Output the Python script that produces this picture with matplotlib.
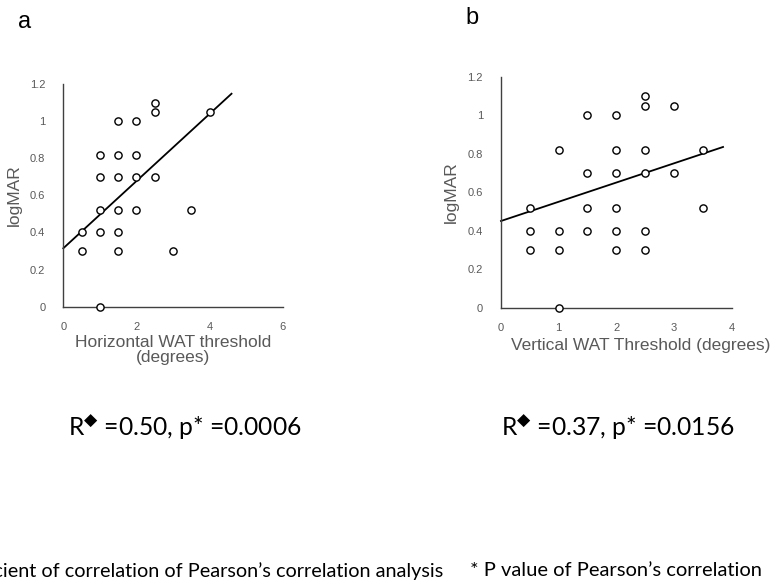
import numpy as np
import matplotlib
matplotlib.use("Agg")
from matplotlib import pyplot as plt

# panel a: horizontal WAT threshold vs logMAR
horiz_x = [0.5, 0.5, 1, 1, 1, 1, 1, 1.5, 1.5, 1.5, 1.5, 1.5, 1.5,
           2, 2, 2, 2, 2.5, 2.5, 2.5, 3, 3.5, 4]
horiz_y = [0.4, 0.3, 0.82, 0.7, 0.52, 0.4, 0.0, 1.0, 0.82, 0.7, 0.52, 0.4, 0.3,
           1.0, 0.82, 0.7, 0.52, 1.1, 1.05, 0.7, 0.3, 0.52, 1.05]
# trend line: intercept, slope, end x
horiz_fit = (0.315, 0.181, 4.6)

# panel b: vertical WAT threshold vs logMAR
vert_x = [0.5, 0.5, 0.5, 1, 1, 1, 1, 1.5, 1.5, 1.5, 1.5,
          2, 2, 2, 2, 2, 2, 2.5, 2.5, 2.5, 2.5, 2.5, 2.5, 3, 3, 3.5, 3.5]
vert_y = [0.52, 0.4, 0.3, 0.82, 0.4, 0.3, 0.0, 1.0, 0.7, 0.52, 0.4,
          1.0, 0.82, 0.7, 0.52, 0.4, 0.3, 1.1, 1.05, 0.82, 0.7, 0.4, 0.3, 1.05, 0.7, 0.82, 0.52]
vert_fit = (0.451, 0.100, 3.85)

yticks = [0, 0.2, 0.4, 0.6, 0.8, 1, 1.2]
ytick_labels = ["0", "0.2", "0.4", "0.6", "0.8", "1", "1.2"]
stats_a = "R$^{\u25c6}$ =0.50, p* =0.0006"
stats_b = "R$^{\u25c6}$ =0.37, p* =0.0156"
note_a = "\u25c6 Coefficient of correlation of Pearson\u2019s correlation analysis"
note_b = "* P value of Pearson\u2019s correlation"

gray = "#595959"
plt.rcParams['font.family'] = ['Liberation Sans', 'DejaVu Sans']
plt.rcParams['mathtext.fontset'] = 'dejavusans'

fig = plt.figure(figsize=(7.76, 5.85), dpi=100)


def panel(rect, xs, ys, fit, xmax, xlabel, xlab_x, xlab_y):
    ax = fig.add_axes(rect)
    ax.plot(xs, ys, 'o', ms=5.2, mfc='white', mec='black', mew=1.0, clip_on=False, zorder=3)
    b0, b1, xend = fit
    fx = np.array([0, xend])
    ax.plot(fx, b0 + b1 * fx, color='black', lw=1.3, clip_on=False, zorder=2)
    ax.set_xlim(0, xmax)
    ax.set_ylim(0, 1.2)
    ax.set_xticks(np.arange(0, xmax + 1, 1 if xmax == 4 else 2))
    ax.set_yticks(yticks)
    ax.set_yticklabels(ytick_labels)
    for s in ['top', 'right']:
        ax.spines[s].set_visible(False)
    for s in ['left', 'bottom']:
        ax.spines[s].set_color('#404040')
        ax.spines[s].set_linewidth(1.0)
    ax.tick_params(length=0, labelsize=8, colors=gray, pad=11)
    ax.tick_params(axis='y', pad=13)
    ax.set_xlabel(xlabel, fontsize=12.5, color=gray, linespacing=1.0)
    ax.xaxis.set_label_coords(xlab_x, xlab_y, transform=ax.transAxes)
    ax.xaxis.label.set_va('top')
    ax.set_ylabel("logMAR", fontsize=12.5, color=gray, labelpad=6)
    return ax


ax_a = panel([0.0816, 0.4757, 0.2827, 0.3807], horiz_x, horiz_y, horiz_fit, 6,
             "Horizontal WAT threshold\n(degrees)", 0.5, -0.125)
ax_b = panel([0.6456, 0.474, 0.2973, 0.3944], vert_x, vert_y, vert_fit, 4,
             "Vertical WAT Threshold (degrees)", 0.606, -0.13)

fig.text(25 / 776, 1 - 22 / 585, "a", fontsize=17, ha='center', va='center')
fig.text(472 / 776, 1 - 18 / 585, "b", fontsize=17, ha='center', va='center')

calib = ['Lato', 'DejaVu Sans']
fig.text(68 / 776, 1 - 427 / 585, stats_a, fontsize=17.7, family=calib, ha='left', va='center')
fig.text(501 / 776, 1 - 427 / 585, stats_b, fontsize=17.7, family=calib, ha='left', va='center')
fig.text(443 / 776, 1 - 571 / 585, note_a, fontsize=14.3, family=calib, ha='right', va='center')
fig.text(470 / 776, 1 - 571 / 585, note_b, fontsize=14.5, family=calib, ha='left', va='center')

fig.savefig("out.png", dpi=100)
